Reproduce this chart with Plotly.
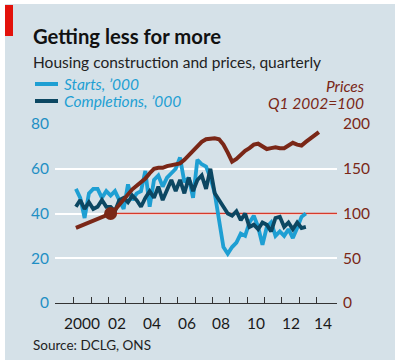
import plotly.graph_objects as go

# ---------------- data ----------------
start_year = 2000
starts = [51, 47, 38, 49, 51, 51, 47, 50, 48, 50, 46, 42, 53, 46, 49, 50,
          59, 43, 55, 57, 52, 56, 58, 60, 65, 54, 56, 47, 64, 62, 61, 56,
          49, 37, 25, 22, 25, 27, 31, 30, 36, 39, 34, 26, 34, 36, 30, 32,
          30, 33, 29, 33.5, 38.5, 40]
completions = [43, 46, 42, 45, 42, 43, 46, 43, 43, 41, 46, 47, 45, 48, 46, 43,
               47, 50, 47, 52, 46, 51, 55, 50, 55, 49, 56, 50, 55, 57, 51, 60,
               49, 46, 43, 40, 39, 41, 37, 40, 34, 35, 33, 36, 35, 32, 38, 38.5,
               34, 36, 33, 36, 33.5, 34]
prices = [84, 86, 88, 90, 92, 94, 96, 98,
          100, 104, 110, 116, 121, 127, 131, 135,
          139, 145, 150, 151, 151, 153, 154, 155,
          156, 160, 165, 170, 174, 180, 183, 184,
          184, 183, 177, 168, 158, 161, 166, 170,
          173, 177, 178, 175, 172, 173, 174, 173,
          173, 176, 179, 177, 176, 180, 184, 187, 191]
year_ticks = list(range(2000, 2015))
year_labels = ["2000", "02", "04", "06", "08", "10", "12", "14"]
left_ticks = [0, 20, 40, 60, 80]
right_ticks = [0, 50, 100, 150, 200]
base_quarter = 2002.125
base_value = 100


def qx(n):
    return [start_year + (i + 0.5) / 4 for i in range(n)]


# ---------------- style ----------------
W, H = 398, 364
ML, MR, MT, MB = 55, 61, 124, 61
PW, PH = W - ML - MR, H - MT - MB
BG = "#d5e1e8"
LIGHT = "#1e9fd3"
DARK = "#0c4762"
BROWN = "#7a2717"
RED = "#d63a2b"
FONT = "Lato"
XR = [1998.92, 2015.17]


def px(x):
    return (x - ML) / PW


def py(y):
    return (MT + PH - y) / PH


fig = go.Figure()
fig.add_trace(go.Scatter(x=qx(len(starts)), y=starts, mode="lines",
                         line=dict(color=LIGHT, width=3.8), yaxis="y",
                         hoverinfo="skip", showlegend=False))
fig.add_trace(go.Scatter(x=qx(len(completions)), y=completions, mode="lines",
                         line=dict(color=DARK, width=3.8), yaxis="y",
                         hoverinfo="skip", showlegend=False))
fig.add_trace(go.Scatter(x=qx(len(prices)), y=prices, mode="lines",
                         line=dict(color=BROWN, width=4), yaxis="y2",
                         hoverinfo="skip", showlegend=False))
fig.add_trace(go.Scatter(x=[base_quarter], y=[base_value], mode="markers",
                         marker=dict(color=BROWN, size=13), yaxis="y2",
                         hoverinfo="skip", showlegend=False))

# base line at price index 100 (= 40 on the left scale, both axes share 0)
base_left = base_value * left_ticks[-1] / right_ticks[-1]

shapes = [
    dict(type="rect", xref="paper", yref="paper", x0=px(5), x1=px(395),
         y0=py(360), y1=py(4), fillcolor=BG, line=dict(width=0), layer="below"),
    dict(type="rect", xref="paper", yref="paper", x0=px(5), x1=px(13),
         y0=py(36), y1=py(5), fillcolor="#e3120b", line=dict(width=0), layer="above"),
    dict(type="line", xref="x", yref="y", x0=base_quarter, x1=XR[1],
         y0=base_left, y1=base_left, line=dict(color=RED, width=1.5), layer="between"),
    # legend samples
    dict(type="line", xref="paper", yref="paper", x0=px(35), x1=px(58),
         y0=py(84), y1=py(84), line=dict(color=LIGHT, width=4), layer="above"),
    dict(type="line", xref="paper", yref="paper", x0=px(35), x1=px(58),
         y0=py(101), y1=py(101), line=dict(color=DARK, width=4), layer="above"),
]

ann = []


def text(x, y, s, size, color, xanchor="left", bold=False, italic=False):
    ann.append(dict(xref="paper", yref="paper", x=px(x), y=py(y), text=s,
                    showarrow=False, xanchor=xanchor, yanchor="middle",
                    font=dict(family=FONT, size=size, color=color,
                              weight="bold" if bold else "normal",
                              style="italic" if italic else "normal")))


text(31, 36, "Getting less for more", 20.3, "#111111", bold=True)
text(31, 62, "Housing construction and prices, quarterly", 15.5, "#222222")
text(62, 84, "Starts, \u2019000", 15.5, LIGHT, italic=True)
text(62, 101, "Completions, \u2019000", 15.5, LIGHT, italic=True)
text(366, 86, "Prices", 15.5, BROWN, xanchor="right", italic=True)
text(366, 103, "Q1 2002=100", 15.5, BROWN, xanchor="right", italic=True)
text(31, 345, "Source: DCLG, ONS", 13.5, "#222222")

for lab, yr in zip(year_labels, [2000, 2002, 2004, 2006, 2008, 2010, 2012, 2014]):
    xv = yr + 0.5 if yr < 2014 else yr + 0.35
    ann.append(dict(xref="x", yref="paper", x=xv, y=py(323), text=lab,
                    showarrow=False, xanchor="center", yanchor="middle",
                    font=dict(family=FONT, size=15.5, color="#1a1a1a")))

fig.update_layout(
    width=W, height=H, margin=dict(l=ML, r=MR, t=MT, b=MB, autoexpand=False),
    paper_bgcolor="white", plot_bgcolor="rgba(0,0,0,0)",
    shapes=shapes, annotations=ann, showlegend=False,
    xaxis=dict(range=XR, tickvals=year_ticks, ticks="inside", ticklen=6,
               tickcolor="#333333", tickwidth=1, showticklabels=False,
               showline=True, linecolor="#333333", linewidth=1.2,
               showgrid=False, zeroline=False, fixedrange=True),
    yaxis=dict(range=[0, 80], tickvals=left_ticks, showgrid=True,
               gridcolor="white", gridwidth=2, zeroline=False, ticks="",
               ticklabelstandoff=5,
               tickfont=dict(family=FONT, size=15.5, color="#1f8fc4"),
               fixedrange=True),
    yaxis2=dict(range=[0, 200], tickvals=right_ticks, overlaying="y",
                side="right", showgrid=False, zeroline=False, ticks="",
                ticklabelstandoff=5,
                tickfont=dict(family=FONT, size=15.5, color=BROWN),
                fixedrange=True),
)

fig.write_html("out.html", config={"displayModeBar": False},
               post_script="document.body.style.margin='0';")
